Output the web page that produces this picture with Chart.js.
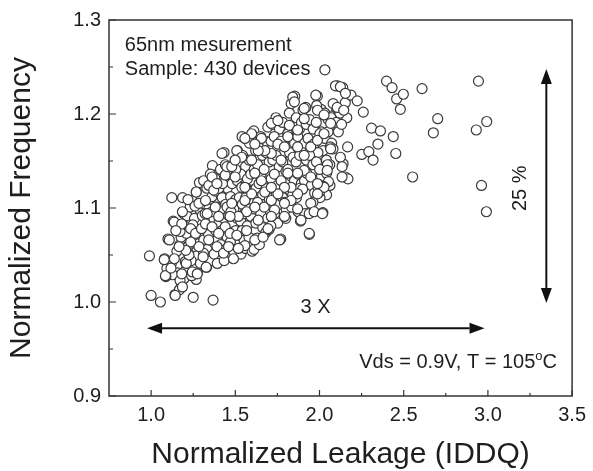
<!DOCTYPE html>
<html>
<head>
<meta charset="utf-8">
<script src="https://cdn.jsdelivr.net/npm/chart.js@4.4.1/dist/chart.umd.min.js"></script>
<style>
  html, body { margin: 0; padding: 0; background: #fff; }
  #wrap { width: 593px; height: 471px; }
</style>
</head>
<body>
<div id="wrap"><canvas id="scatterChart" width="593" height="471"></canvas></div>
<script>
// tick values
const xTickValues = [1.0, 1.5, 2.0, 2.5, 3.0, 3.5];
const xMinorTicks = [1.25, 1.75, 2.25, 2.75, 3.25];
const yTickValues = [0.9, 1.0, 1.1, 1.2, 1.3];
const yMinorTicks = [0.95, 1.05, 1.15, 1.25];

const edgeDevices = [
  [0.99, 1.049], [1.00, 1.007], [1.055, 1.000], [1.078, 1.045], [1.088, 1.027], [1.085, 1.028],
  [1.118, 1.036], [1.143, 1.007], [1.172, 1.023], [1.186, 1.016], [1.182, 1.030], [1.209, 1.041],
  [1.225, 1.050], [1.250, 1.005], [1.245, 1.032], [1.274, 1.030], [1.327, 1.037], [1.368, 1.002],
  [1.309, 1.048], [1.284, 1.059], [1.235, 1.064], [1.209, 1.073], [1.172, 1.075], [1.137, 1.085],
  [1.123, 1.111], [1.186, 1.096], [1.182, 1.083], [1.235, 1.078], [1.264, 1.073], [1.299, 1.078],
  [1.323, 1.083], [1.333, 1.094], [1.268, 1.117], [1.284, 1.105], [1.323, 1.108], [1.372, 1.119],
  [1.362, 1.133], [1.391, 1.126], [1.421, 1.158], [1.440, 1.135], [1.450, 1.144], [1.479, 1.144],
  [1.509, 1.161], [1.499, 1.133], [1.538, 1.122], [1.557, 1.108], [1.567, 1.096], [1.518, 1.091],
  [1.479, 1.105], [1.469, 1.091], [1.440, 1.080], [1.469, 1.073], [1.509, 1.071], [1.557, 1.060],
  [1.567, 1.076], [1.616, 1.066], [1.665, 1.069], [1.694, 1.078], [1.763, 1.066], [1.792, 1.091],
  [1.733, 1.098], [1.714, 1.108], [1.675, 1.117], [1.655, 1.129], [1.616, 1.137], [1.597, 1.151],
  [1.597, 1.179], [1.655, 1.174], [1.714, 1.190], [1.753, 1.193], [1.821, 1.188], [1.812, 1.176],
  [1.870, 1.183], [1.909, 1.195], [1.841, 1.218], [1.851, 1.213], [1.909, 1.206], [1.978, 1.220],
  [1.988, 1.204], [2.027, 1.199], [2.066, 1.190], [2.095, 1.230], [2.124, 1.229], [2.105, 1.207],
  [2.144, 1.204], [2.154, 1.222], [2.066, 1.163], [2.124, 1.154], [2.134, 1.144], [2.134, 1.133],
  [2.046, 1.140], [2.027, 1.122], [1.988, 1.115], [1.948, 1.105], [1.890, 1.087], [1.939, 1.094],
  [1.968, 1.096], [2.017, 1.094], [1.939, 1.073], [1.870, 1.115], [1.831, 1.122], [1.812, 1.137],
  [1.772, 1.151], [1.714, 1.158], [1.675, 1.161], [1.636, 1.161], [1.616, 1.168], [1.557, 1.174],
  [1.538, 1.154], [1.499, 1.151], [1.753, 1.168], [1.792, 1.165], [1.870, 1.165], [1.909, 1.156],
  [1.948, 1.165], [1.988, 1.172], [2.027, 1.179], [1.909, 1.140], [1.870, 1.137], [1.948, 1.133],
  [1.988, 1.126], [1.792, 1.122], [1.753, 1.115], [1.714, 1.122], [1.831, 1.108], [1.792, 1.105],
  [1.870, 1.099], [1.714, 1.091], [1.636, 1.087], [1.616, 1.101], [1.597, 1.115], [1.557, 1.122],
  [1.381, 1.101], [1.401, 1.091], [1.362, 1.080], [1.342, 1.066], [1.391, 1.059], [1.430, 1.052],
  [1.460, 1.059], [1.518, 1.057], [1.489, 1.046], [1.401, 1.073], [1.206, 1.055], [1.166, 1.059],
  [1.108, 1.066], [1.147, 1.076]
];

// devices in the crowded middle of the cloud
const coreDevices = [
  [1.10, 1.067], [1.131, 1.086], [1.142, 1.008], [1.12, 1.041], [1.153, 1.054], [1.162, 1.077],
  [1.18, 1.019], [1.196, 1.025], [1.187, 1.111], [1.193, 1.094], [1.171, 1.061], [1.138, 1.046],
  [1.158, 1.031], [1.203, 1.043], [1.199, 1.081], [1.178, 1.069], [1.128, 1.029], [1.168, 1.013],
  [1.08, 1.046], [1.094, 1.036],
  [1.221, 1.052], [1.207, 1.034], [1.276, 1.031], [1.269, 1.117], [1.213, 1.092], [1.232, 1.101],
  [1.243, 1.108], [1.252, 1.071], [1.263, 1.064], [1.224, 1.076], [1.281, 1.086], [1.272, 1.049],
  [1.238, 1.044], [1.291, 1.098], [1.258, 1.089], [1.229, 1.061], [1.284, 1.062], [1.248, 1.082],
  [1.214, 1.058], [1.293, 1.041], [1.268, 1.024], [1.302, 1.071], [1.241, 1.028], [1.287, 1.127],
  [1.219, 1.109], [1.261, 1.102],
  [1.33, 1.037], [1.364, 1.145], [1.312, 1.129], [1.331, 1.121], [1.352, 1.136], [1.318, 1.104],
  [1.343, 1.099], [1.361, 1.112], [1.382, 1.118], [1.304, 1.092], [1.322, 1.081], [1.351, 1.086],
  [1.372, 1.089], [1.391, 1.101], [1.313, 1.066], [1.341, 1.072], [1.363, 1.061], [1.383, 1.076],
  [1.332, 1.056], [1.354, 1.044], [1.374, 1.051], [1.392, 1.066], [1.311, 1.052], [1.381, 1.131],
  [1.343, 1.124], [1.362, 1.096], [1.402, 1.084], [1.321, 1.094], [1.393, 1.041],
  [1.433, 1.159], [1.412, 1.141], [1.441, 1.146], [1.462, 1.139], [1.431, 1.129], [1.452, 1.121],
  [1.481, 1.126], [1.422, 1.111], [1.443, 1.104], [1.472, 1.112], [1.491, 1.099], [1.412, 1.096],
  [1.432, 1.089], [1.461, 1.092], [1.482, 1.084], [1.421, 1.076], [1.452, 1.069], [1.471, 1.064],
  [1.502, 1.076], [1.413, 1.061], [1.442, 1.056], [1.463, 1.049], [1.434, 1.044], [1.492, 1.054],
  [1.403, 1.121], [1.483, 1.141], [1.451, 1.101], [1.503, 1.109], [1.424, 1.126], [1.474, 1.096],
  [1.513, 1.161], [1.522, 1.149], [1.543, 1.156], [1.561, 1.144], [1.582, 1.151], [1.512, 1.129],
  [1.533, 1.136], [1.551, 1.124], [1.572, 1.131], [1.591, 1.119], [1.524, 1.111], [1.542, 1.104],
  [1.562, 1.111], [1.583, 1.099], [1.511, 1.089], [1.532, 1.086], [1.553, 1.094], [1.571, 1.081],
  [1.593, 1.091], [1.521, 1.071], [1.552, 1.066], [1.581, 1.069], [1.534, 1.051], [1.56, 1.057],
  [1.60, 1.054], [1.604, 1.176], [1.584, 1.169], [1.502, 1.141], [1.564, 1.121], [1.541, 1.076],
  [1.592, 1.136], [1.54, 1.176],
  [1.61, 1.182], [1.65, 1.176], [1.63, 1.068], [1.621, 1.161], [1.642, 1.164], [1.661, 1.156],
  [1.682, 1.159], [1.701, 1.149], [1.612, 1.141], [1.633, 1.146], [1.652, 1.134], [1.671, 1.141],
  [1.691, 1.129], [1.623, 1.121], [1.641, 1.126], [1.662, 1.114], [1.683, 1.121], [1.702, 1.109],
  [1.613, 1.099], [1.632, 1.106], [1.651, 1.094], [1.672, 1.101], [1.692, 1.089], [1.622, 1.084],
  [1.663, 1.079], [1.681, 1.074], [1.611, 1.056], [1.643, 1.061], [1.70, 1.077], [1.684, 1.171],
  [1.693, 1.186],
  [1.77, 1.067], [1.722, 1.189], [1.741, 1.196], [1.762, 1.184], [1.781, 1.191], [1.712, 1.171],
  [1.731, 1.176], [1.752, 1.164], [1.771, 1.171], [1.792, 1.159], [1.723, 1.151], [1.742, 1.156],
  [1.761, 1.144], [1.782, 1.149], [1.801, 1.139], [1.713, 1.131], [1.732, 1.136], [1.751, 1.124],
  [1.772, 1.129], [1.791, 1.119], [1.721, 1.111], [1.743, 1.114], [1.763, 1.104], [1.781, 1.111],
  [1.802, 1.099], [1.733, 1.094], [1.752, 1.084], [1.711, 1.081], [1.793, 1.106],
  [1.80, 1.089], [1.832, 1.211], [1.853, 1.219], [1.821, 1.201], [1.842, 1.189], [1.862, 1.196],
  [1.881, 1.184], [1.811, 1.179], [1.833, 1.174], [1.852, 1.169], [1.871, 1.176], [1.891, 1.164],
  [1.822, 1.159], [1.843, 1.154], [1.861, 1.149], [1.882, 1.156], [1.812, 1.141], [1.831, 1.134],
  [1.851, 1.129], [1.872, 1.136], [1.892, 1.126], [1.823, 1.119], [1.841, 1.114], [1.863, 1.111],
  [1.883, 1.121], [1.887, 1.086], [1.873, 1.096], [1.834, 1.101], [1.893, 1.191], [1.902, 1.204],
  [1.913, 1.094], [1.94, 1.072], [1.953, 1.097], [1.918, 1.207], [1.987, 1.219], [1.921, 1.189],
  [1.942, 1.194], [1.962, 1.184], [1.981, 1.191], [1.912, 1.169], [1.932, 1.174], [1.951, 1.166],
  [1.972, 1.169], [1.991, 1.159], [1.922, 1.151], [1.941, 1.156], [1.961, 1.146], [1.982, 1.149],
  [2.001, 1.141], [1.911, 1.129], [1.924, 1.137], [1.952, 1.124], [1.971, 1.116], [1.992, 1.121],
  [1.961, 1.106], [2.002, 1.179], [1.983, 1.209], [1.90, 1.12]
];

// high-leakage devices and the sparse tail on the right
const tailDevices = [
  [2.032, 1.247], [2.02, 1.095], [2.009, 1.205], [2.031, 1.201], [2.052, 1.194], [2.071, 1.189],
  [2.089, 1.199], [2.012, 1.181], [2.033, 1.174], [2.051, 1.181], [2.072, 1.169], [2.021, 1.161],
  [2.041, 1.151], [2.061, 1.146], [2.012, 1.134], [2.031, 1.141], [2.062, 1.124], [2.042, 1.114],
  [2.003, 1.111], [2.101, 1.206], [2.081, 1.211], [2.064, 1.165], [2.047, 1.146], [2.042, 1.137],
  [2.053, 1.128], [2.024, 1.123], [2.0, 1.117], [2.08, 1.163], [2.069, 1.196], [2.1, 1.191],
  [2.107, 1.230], [2.138, 1.228], [2.153, 1.212], [2.162, 1.196], [2.121, 1.201], [2.167, 1.165],
  [2.14, 1.147], [2.153, 1.133], [2.169, 1.131], [2.187, 1.220], [2.112, 1.181], [2.131, 1.189],
  [2.224, 1.214], [2.26, 1.202], [2.251, 1.157], [2.293, 1.160], [2.318, 1.151], [2.309, 1.185],
  [2.362, 1.182], [2.347, 1.168], [2.398, 1.235], [2.431, 1.228], [2.458, 1.216], [2.498, 1.221],
  [2.48, 1.205], [2.438, 1.176], [2.453, 1.158], [2.553, 1.133], [2.609, 1.227], [2.702, 1.195],
  [2.676, 1.180], [2.944, 1.235], [2.993, 1.192], [2.931, 1.183], [2.962, 1.124], [2.991, 1.096]
];

const toPoints = list => list.map(p => ({ x: p[0], y: p[1] }));

const FONT_FAMILY = '"Liberation Sans", Arial, Helvetica, sans-serif';
const INK = '#1e1e1e';

function drawArrowHead(ctx, tipX, tipY, dirX, dirY, len, half) {
  const bx = tipX - dirX * len;
  const by = tipY - dirY * len;
  ctx.beginPath();
  ctx.moveTo(tipX, tipY);
  ctx.lineTo(bx - dirY * half, by + dirX * half);
  ctx.lineTo(bx + dirY * half, by - dirX * half);
  ctx.closePath();
  ctx.fill();
}

function drawDoubleArrow(ctx, x1, y1, x2, y2) {
  const dx = x2 - x1, dy = y2 - y1;
  const d = Math.hypot(dx, dy);
  const ux = dx / d, uy = dy / d;
  const len = 15, half = 5.5;
  ctx.beginPath();
  ctx.moveTo(x1 + ux * len, y1 + uy * len);
  ctx.lineTo(x2 - ux * len, y2 - uy * len);
  ctx.stroke();
  drawArrowHead(ctx, x2, y2, ux, uy, len, half);
  drawArrowHead(ctx, x1, y1, -ux, -uy, len, half);
}

// frame, inward ticks and the text/arrow notes
const decorPlugin = {
  id: 'decor',
  afterDatasetsDraw(chart) {
    const { ctx, chartArea: a, scales } = chart;
    const xs = scales.x, ys = scales.y;
    ctx.save();
    ctx.strokeStyle = '#333';
    ctx.lineWidth = 1.5;
    ctx.strokeRect(a.left, a.top, a.right - a.left, a.bottom - a.top);

    ctx.lineWidth = 1.2;
    ctx.beginPath();
    xTickValues.forEach(v => {
      const px = xs.getPixelForValue(v);
      ctx.moveTo(px, a.bottom); ctx.lineTo(px, a.bottom - 6);
    });
    xMinorTicks.forEach(v => {
      const px = xs.getPixelForValue(v);
      ctx.moveTo(px, a.bottom); ctx.lineTo(px, a.bottom - 3);
    });
    yTickValues.forEach(v => {
      const py = ys.getPixelForValue(v);
      ctx.moveTo(a.left, py); ctx.lineTo(a.left + 7, py);
    });
    yMinorTicks.forEach(v => {
      const py = ys.getPixelForValue(v);
      ctx.moveTo(a.left, py); ctx.lineTo(a.left + 4, py);
    });
    ctx.stroke();

    ctx.fillStyle = INK;
    ctx.font = '20px ' + FONT_FAMILY;
    ctx.textBaseline = 'middle';
    ctx.textAlign = 'left';
    ctx.fillText('65nm mesurement', xs.getPixelForValue(0.844), ys.getPixelForValue(1.273));
    ctx.fillText('Sample: 430 devices', xs.getPixelForValue(0.844), ys.getPixelForValue(1.247));

    ctx.textAlign = 'center';
    ctx.fillText('3 X', xs.getPixelForValue(1.976), ys.getPixelForValue(0.994));

    // condition note, right aligned, with a raised "o"
    const main = 'Vds = 0.9V, T = 105';
    const sup = 'o';
    const tail = 'C';
    ctx.font = '20px ' + FONT_FAMILY;
    const wMain = ctx.measureText(main).width;
    const wTail = ctx.measureText(tail).width;
    ctx.font = '13px ' + FONT_FAMILY;
    const wSup = ctx.measureText(sup).width;
    const right = xs.getPixelForValue(3.41);
    const ny = ys.getPixelForValue(0.936);
    let nx = right - (wMain + wSup + wTail);
    ctx.textAlign = 'left';
    ctx.font = '20px ' + FONT_FAMILY;
    ctx.fillText(main, nx, ny);
    nx += wMain;
    ctx.font = '13px ' + FONT_FAMILY;
    ctx.fillText(sup, nx, ny - 6);
    nx += wSup;
    ctx.font = '20px ' + FONT_FAMILY;
    ctx.fillText(tail, nx, ny);

    // 25 % label
    ctx.save();
    ctx.translate(xs.getPixelForValue(3.196), ys.getPixelForValue(1.121));
    ctx.rotate(-Math.PI / 2);
    ctx.textAlign = 'center';
    ctx.fillText('25 %', 0, 0);
    ctx.restore();

    // arrows
    ctx.strokeStyle = '#111';
    ctx.fillStyle = '#111';
    ctx.lineWidth = 2;
    const hy = ys.getPixelForValue(0.972);
    drawDoubleArrow(ctx, xs.getPixelForValue(0.976), hy, xs.getPixelForValue(2.98), hy);
    const vx = xs.getPixelForValue(3.347);
    drawDoubleArrow(ctx, vx, ys.getPixelForValue(1.248), vx, ys.getPixelForValue(0.999));
    ctx.restore();
  }
};

const pointStyle = {
  pointRadius: 5,
  pointHoverRadius: 5,
  pointBorderWidth: 1.2,
  pointBorderColor: '#3a3a3a',
  pointBackgroundColor: '#ffffff'
};

new Chart(document.getElementById('scatterChart'), {
  type: 'scatter',
  data: {
    datasets: [
      Object.assign({ label: 'edge', data: toPoints(edgeDevices) }, pointStyle),
      Object.assign({ label: 'core', data: toPoints(coreDevices) }, pointStyle),
      Object.assign({ label: 'tail', data: toPoints(tailDevices) }, pointStyle)
    ]
  },
  options: {
    responsive: false,
    animation: false,
    events: [],
    layout: { padding: { top: 19, right: 15, left: 0, bottom: 0 } },
    plugins: {
      legend: { display: false },
      tooltip: { enabled: false }
    },
    scales: {
      x: {
        type: 'linear',
        min: 0.75,
        max: 3.5,
        afterBuildTicks: scale => { scale.ticks = xTickValues.map(v => ({ value: v })); },
        afterFit: scale => { scale.height = 75; },
        grid: { display: false, drawTicks: false },
        border: { display: false },
        ticks: {
          padding: 7,
          color: INK,
          font: { family: FONT_FAMILY, size: 20 },
          maxRotation: 0,
          callback: v => Number(v).toFixed(1)
        },
        title: {
          display: true,
          text: 'Normalized Leakage (IDDQ)',
          color: INK,
          font: { family: FONT_FAMILY, size: 30, lineHeight: 1 },
          padding: { top: 0, bottom: 1 }
        }
      },
      y: {
        type: 'linear',
        min: 0.9,
        max: 1.3,
        afterBuildTicks: scale => { scale.ticks = yTickValues.map(v => ({ value: v })); },
        afterFit: scale => { scale.width = 109; },
        grid: { display: false, drawTicks: false },
        border: { display: false },
        ticks: {
          padding: 8,
          color: INK,
          font: { family: FONT_FAMILY, size: 20 },
          callback: v => Number(v).toFixed(1)
        },
        title: {
          display: true,
          text: 'Normalized Frequency',
          color: INK,
          font: { family: FONT_FAMILY, size: 30, lineHeight: 1 },
          padding: { top: 7, bottom: 0 }
        }
      }
    }
  },
  plugins: [decorPlugin]
});
</script>
</body>
</html>
